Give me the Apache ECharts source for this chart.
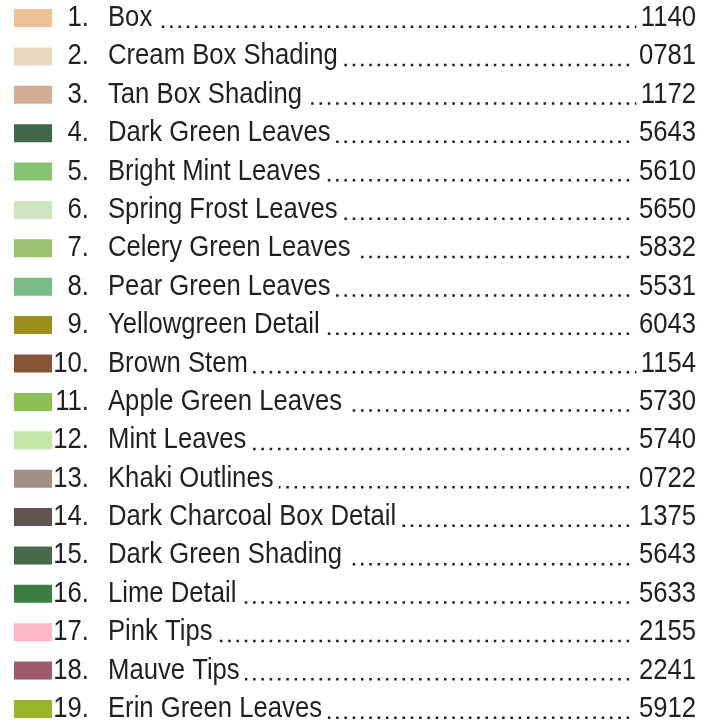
<!DOCTYPE html>
<html><head><meta charset="utf-8">
<script src="https://cdn.jsdelivr.net/npm/echarts@6/dist/echarts.min.js"></script>
<style>html,body{margin:0;padding:0;background:#fff}#c{width:716px;height:725px}</style>
</head><body><div id="c"></div>
<script>
const numbers = ['1.','2.','3.','4.','5.','6.','7.','8.','9.','10.','11.','12.','13.','14.','15.','16.','17.','18.','19.'];
const names = ['Box','Cream Box Shading','Tan Box Shading','Dark Green Leaves','Bright Mint Leaves','Spring Frost Leaves','Celery Green Leaves','Pear Green Leaves','Yellowgreen Detail','Brown Stem','Apple Green Leaves','Mint Leaves','Khaki Outlines','Dark Charcoal Box Detail','Dark Green Shading','Lime Detail','Pink Tips','Mauve Tips','Erin Green Leaves'];
const codes = ['1140','0781','1172','5643','5610','5650','5832','5531','6043','1154','5730','5740','0722','1375','5643','5633','2155','2241','5912'];
const colors = ['#EFC095','#E9D8BB','#D2AD93','#416848','#87C46F','#CDE5C0','#9CC26F','#7ABD84','#A08E1C','#875435','#8CC057','#C2E7A6','#A39084','#61544F','#456A4A','#3A7F41','#FDB6C2','#A05A6B','#9AB628'];

const textColor = '#231f20';
const font = '29px "Liberation Sans", Arial, sans-serif';
const sx = 0.885;

const chart = echarts.init(document.getElementById('c'), null, {renderer: 'canvas'});
chart.setOption({
  animation: false,
  grid: {left: 0, right: 0, top: 18, bottom: 16},
  xAxis: {type: 'value', show: false, min: 0, max: 1},
  yAxis: {type: 'category', show: false, inverse: true, boundaryGap: false, data: numbers},
  series: [{
    type: 'custom',
    data: names.map((_, i) => [0, i]),
    renderItem: function (params, api) {
      const i = api.value(1);
      const yc = api.coord([0, i])[1];
      const base = yc + 10;
      return {
        type: 'group',
        children: [
          {type: 'rect', shape: {x: 14, y: yc - 9, width: 38, height: 18}, style: {fill: colors[i]}},
          {type: 'line', shape: {x1: 112, y1: base - 1.3, x2: 690, y2: base - 1.3},
            style: {stroke: textColor, lineWidth: 2.5, lineDash: [2.5, 5.8]}},
          {type: 'text', x: 89, y: yc, scaleX: sx, style: {text: numbers[i], font: font, fill: textColor, align: 'right', verticalAlign: 'middle'}},
          {type: 'text', x: 108, y: yc, scaleX: sx, style: {text: names[i], font: font, fill: textColor, align: 'left', verticalAlign: 'middle', backgroundColor: '#fff', padding: [3, 6, 3, 0]}},
          {type: 'text', x: 696, y: yc, scaleX: sx, style: {text: codes[i], font: font, fill: textColor, align: 'right', verticalAlign: 'middle', backgroundColor: '#fff', padding: [3, 0, 3, 5]}}
        ]
      };
    }
  }]
});
</script>
</body></html>
